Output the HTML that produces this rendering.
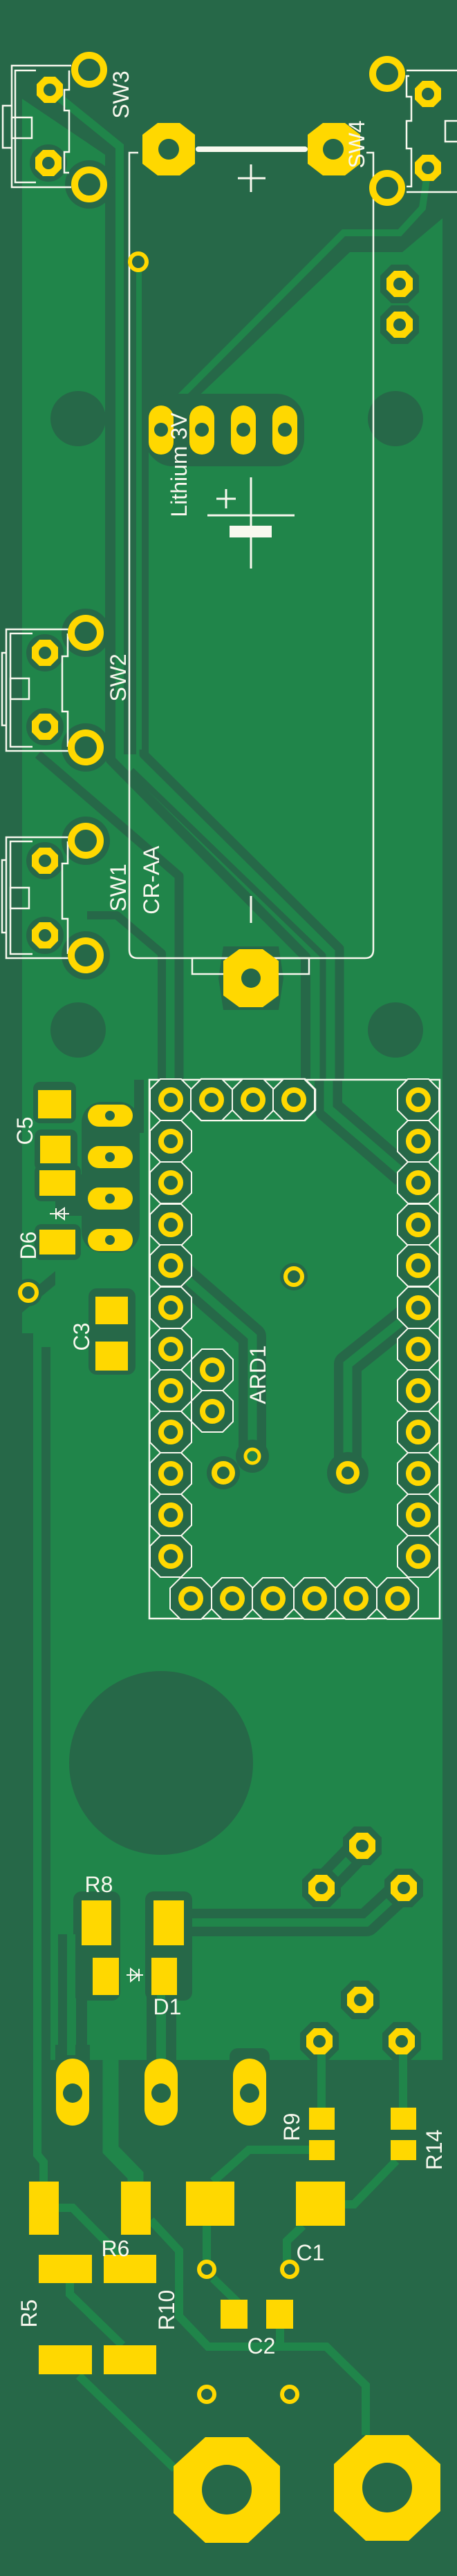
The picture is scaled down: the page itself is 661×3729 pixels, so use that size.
<!DOCTYPE html>
<html><head><meta charset="utf-8"><style>
html,body{margin:0;padding:0;background:#266848;}
svg{display:block;}
text{font-family:"Liberation Sans",sans-serif;fill:#F8F8EE;}
</style></head><body>
<svg width="661" height="3729" viewBox="0 0 661 3729" xmlns="http://www.w3.org/2000/svg">
<defs>
<g id="ring"><circle r="21" fill="#266848" stroke="#FFD800" stroke-width="10"/></g>
<g id="oct"><polygon points="-19,-8 -8,-19 8,-19 19,-8 19,8 8,19 -8,19 -19,8" fill="#FFD800"/><circle r="9" fill="#266848"/></g>
<g id="octc"><polygon points="-28,-12 -12,-28 12,-28 28,-12 28,12 12,28 -12,28 -28,12" fill="#266848"/></g>
<g id="ao"><polygon points="-30,-15 -15,-30 15,-30 30,-15 30,15 15,30 -15,30 -30,15" fill="#266848" stroke="#F8F8EE" stroke-width="2"/><circle r="14" fill="#266848" stroke="#FFD800" stroke-width="8"/></g>
<g id="via"><circle r="12" fill="#266848" stroke="#FFD800" stroke-width="6"/></g>
</defs>
<rect width="661" height="3729" fill="#266848"/>
<!-- copper pour -->
<polygon points="32,143 152,224 152,250 32,250" fill="#20854A"/>
<rect x="32" y="250" width="608" height="2732" fill="#20854A"/>
<!-- dark top-center region -->
<polygon points="152,224 640,224 640,316 582,365 506,365 295,566 215,640 215,1092 152,1092" fill="#266848"/>
<rect x="152" y="200" width="488" height="30" fill="#266848"/>
<!-- lit traces in dark region -->
<polyline points="72,130 173,212 173,1100" fill="none" stroke="#20854A" stroke-width="12"/>
<polyline points="201,379 201,1095" fill="none" stroke="#20854A" stroke-width="8"/>
<polyline points="245,590 497,337 578,337 611,301 619,245" fill="none" stroke="#20854A" stroke-width="10"/>
<!-- dark bands -->
<g fill="none" stroke="#266848" stroke-linejoin="round">
<polyline points="208,1085 208,1092 491,1373 491,1563" stroke-width="13"/>
<polyline points="190,1115 467,1383 467,1563" stroke-width="9"/>
<polyline points="160,1090 160,1100 442,1385 442,1563" stroke-width="14"/>
<polyline points="55,1092 259,1268 259,1563" stroke-width="13"/>
<polyline points="126,1325 169,1325 234,1380 234,1563" stroke-width="12"/>
<polyline points="475,1563 475,1605 585,1700" stroke-width="40"/>
<polyline points="247,1832 365,1935 365,2108" stroke-width="40"/>
<polyline points="605,1893 503,1975 503,2132" stroke-width="40"/>
<polyline points="201,1563 201,1640" stroke-width="14"/>
<polyline points="266,2783 530,2783 584,2733" stroke-width="40"/>
<polyline points="465,2733 524,2672" stroke-width="40"/>
</g>
<g fill="none" stroke="#20854A">
<polyline points="475,1563 475,1605 585,1700" stroke-width="13"/>
<polyline points="247,1832 365,1935 365,2108" stroke-width="13"/>
<polyline points="605,1893 503,1975 503,2132" stroke-width="13"/>
<polyline points="266,2783 530,2783 584,2733" stroke-width="12"/>
<polyline points="465,2733 524,2672" stroke-width="12"/>
</g>
<!-- left lower strips -->
<rect x="32" y="1930" width="16" height="1052" fill="#266848"/>
<polygon points="32,1880 80,1840 80,1860 32,1900" fill="#266848"/>
<rect x="60" y="1950" width="13" height="1032" fill="#266848"/>
<rect x="84" y="2800" width="13" height="182" fill="#266848"/>
<rect x="110" y="2800" width="16" height="182" fill="#266848"/>
<rect x="212" y="2888" width="14" height="94" fill="#266848"/>
<rect x="240" y="2888" width="15" height="94" fill="#266848"/>
<!-- right edge -->
<rect x="640" y="0" width="21" height="3729" fill="#266848"/>
<!-- mount holes -->
<ellipse cx="113" cy="606" rx="40" ry="40" fill="#266848"/>
<ellipse cx="572" cy="606" rx="40" ry="40" fill="#266848"/>
<ellipse cx="113" cy="1491" rx="40" ry="40" fill="#266848"/>
<ellipse cx="572" cy="1491" rx="40" ry="40" fill="#266848"/>
<circle cx="233" cy="2552" r="133" fill="#266848"/>
<!-- clearance around pads -->
<g fill="#266848">
<circle cx="129" cy="267" r="35"/><circle cx="124" cy="916" r="35"/><circle cx="124" cy="1082" r="35"/><circle cx="124" cy="1217" r="35"/><circle cx="124" cy="1383" r="35"/>
<circle cx="65" cy="945" r="27"/><circle cx="65" cy="1052" r="27"/><circle cx="65" cy="1246" r="27"/><circle cx="65" cy="1354" r="27"/><circle cx="70" cy="236" r="27"/>
<use href="#octc" x="578" y="411"/><use href="#octc" x="578" y="470"/>
<rect x="210" y="570" width="230" height="105" rx="40"/>
<polygon points="323,1370 403,1370 410,1416 403,1462 323,1462 316,1416"/>
<rect x="48" y="1566" width="62" height="60" rx="10"/>
<rect x="50" y="1635" width="62" height="60" rx="10"/>
<rect x="50" y="1686" width="67" height="53" rx="10"/>
<rect x="50" y="1772" width="67" height="52" rx="10"/>
<rect x="118" y="1595" width="84" height="218" rx="30"/>
<rect x="128" y="1865" width="68" height="125" rx="12"/>
<rect x="80" y="1700" width="40" height="60"/>
<circle cx="41" cy="1871" r="20"/>
<circle cx="425" cy="1848" r="20"/><circle cx="365" cy="2108" r="24"/><circle cx="323" cy="2132" r="24"/><circle cx="503" cy="2132" r="30"/>
<rect x="106" y="2738" width="68" height="158" rx="12"/>
<rect x="210" y="2738" width="68" height="158" rx="12"/>
<use href="#octc" x="524" y="2672"/><use href="#octc" x="465" y="2733"/><use href="#octc" x="584" y="2733"/>
<use href="#octc" x="521" y="2895"/><use href="#octc" x="462" y="2955"/><use href="#octc" x="581" y="2955"/>
<rect x="80" y="2960" width="50" height="30"/><rect x="332" y="2965" width="58" height="30" rx="12"/>
</g>
<!-- lower lit traces -->
<g fill="none" stroke="#20854A" stroke-width="12">
<polyline points="54,2982 54,3119 63,3130 63,3158"/>
<polyline points="160,2900 160,3112 196,3149 196,3158" stroke-width="23"/>
<polyline points="103,2800 103,2975"/>
<polyline points="233,2880 233,2982"/>
<polyline points="218,3214 259,3258 259,3353 301,3397 472,3397 529,3453 529,3525"/>
<polyline points="85,3196 105,3196 175,3267"/>
<polyline points="101,3305 101,3321 177,3395"/>
<polyline points="114,3439 253,3574"/>
<polyline points="299,3222 299,3285"/>
<polyline points="308,3298 346,3335"/>
<polyline points="308,3158 360,3112 447,3112"/>
<polyline points="499,3191 512,3191 573,3128"/>
<polyline points="438,3222 415,3244 415,3285"/>
<polyline points="405,3371 405,3397"/>
<polyline points="465,2955 465,3051"/>
<polyline points="583,2955 583,3051"/>
</g>
<!-- SILKSCREEN -->
<g fill="none" stroke="#F8F8EE" stroke-width="2.5">
<!-- SW3 -->
<polyline points="103,95 17,95 17,271 103,271"/>
<polyline points="52,102 22,102 22,264 52,264"/>
<polyline points="17,153 4,153 4,214 17,214"/>
<rect x="17" y="170" width="29" height="30"/>
<polyline points="100,102 100,130 93,130 93,160 100,160 100,220 93,220 93,250 100,250"/>
<!-- SW4 -->
<polyline points="588,102 661,102"/><polyline points="588,278 661,278"/>
<polyline points="592,110 588,110 588,140 595,140 595,175 588,175 588,215 595,215 595,270 588,270"/>
<rect x="644" y="175" width="20" height="30"/>
<!-- SW2 -->
<polyline points="101,911 9,911 9,1087 101,1087"/>
<polyline points="47,917 15,917 15,1081 47,1081"/>
<polyline points="9,945 3,945 3,1050 9,1050"/>
<rect x="15" y="982" width="27" height="30"/>
<polyline points="98,917 98,950 90,950 90,1030 98,1030 98,1081"/>
<!-- SW1 -->
<polyline points="101,1212 9,1212 9,1387 101,1387"/>
<polyline points="47,1218 15,1218 15,1381 47,1381"/>
<polyline points="9,1245 3,1245 3,1350 9,1350"/>
<rect x="15" y="1285" width="27" height="30"/>
<polyline points="98,1218 98,1250 90,1250 90,1330 98,1330 98,1381"/>
<!-- battery outline -->
<path d="M200,221 L187,221 L187,1375 Q187,1387 199,1387 L335,1387 M392,1387 L528,1387 Q540,1387 540,1375 L540,221 L530,221"/>
<polyline points="335,1387 278,1387 278,1410 333,1410"/>
<polyline points="392,1387 447,1387 447,1410 395,1410"/>
<!-- ARD outline -->
<rect x="216" y="1563" width="420" height="780"/>
<polyline points="276,1592 291,1562 441,1562 456,1577 456,1607 441,1622 291,1622 276,1607"/>
</g>
<!-- battery line -->
<line x1="287" y1="216" x2="441" y2="216" stroke="#F8F8EE" stroke-width="8" stroke-linecap="round"/>
<g stroke="#F8F8EE" stroke-width="3" fill="none">
<line x1="344" y1="258" x2="384" y2="258"/><line x1="363" y1="238" x2="363" y2="278"/>
<line x1="363" y1="691" x2="363" y2="823"/>
<line x1="300" y1="746" x2="426" y2="746"/>
<line x1="313" y1="722" x2="341" y2="722"/><line x1="327" y1="708" x2="327" y2="736"/>
<line x1="363" y1="1297" x2="363" y2="1336"/>
</g>
<rect x="332" y="761" width="61" height="17" fill="#F8F8EE"/>
<!-- PADS -->
<use href="#ring" x="129" y="101"/><use href="#ring" x="129" y="267"/>
<use href="#ring" x="560" y="107"/><use href="#ring" x="560" y="272"/>
<use href="#ring" x="124" y="916"/><use href="#ring" x="124" y="1082"/>
<use href="#ring" x="124" y="1217"/><use href="#ring" x="124" y="1383"/>
<use href="#oct" x="72" y="130"/><use href="#oct" x="70" y="236"/>
<use href="#oct" x="619" y="136"/><use href="#oct" x="619" y="243"/>
<use href="#oct" x="65" y="945"/><use href="#oct" x="65" y="1052"/>
<use href="#oct" x="65" y="1246"/><use href="#oct" x="65" y="1354"/>
<use href="#oct" x="578" y="411"/><use href="#oct" x="578" y="470"/>
<use href="#oct" x="524" y="2672"/><use href="#oct" x="465" y="2733"/><use href="#oct" x="584" y="2733"/>
<use href="#oct" x="521" y="2895"/><use href="#oct" x="462" y="2955"/><use href="#oct" x="581" y="2955"/>
<!-- battery big pads -->
<polygon points="206,195 228,178 260,178 282,195 282,237 260,254 228,254 206,237" fill="#FFD800"/>
<circle cx="244" cy="216" r="15" fill="#266848"/>
<polygon points="445,195 467,178 499,178 521,195 521,237 499,254 467,254 445,237" fill="#FFD800"/>
<circle cx="482" cy="216" r="15" fill="#266848"/>
<polygon points="323,1391 346,1374 380,1374 403,1391 403,1441 380,1458 346,1458 323,1441" fill="#FFD800"/>
<circle cx="363" cy="1416" r="14" fill="#266848"/>
<!-- lithium pads -->
<g fill="#FFD800"><rect x="215" y="587" width="36" height="71" rx="18"/><rect x="274" y="587" width="36" height="71" rx="18"/><rect x="334" y="587" width="36" height="71" rx="18"/><rect x="394" y="587" width="36" height="71" rx="18"/></g>
<g fill="#266848"><circle cx="233" cy="622" r="10"/><circle cx="292" cy="622" r="10"/><circle cx="352" cy="622" r="10"/><circle cx="412" cy="622" r="10"/></g>
<use href="#via" x="200" y="379"/>
<!-- C5 D6 ovals -->
<g fill="#FFD800">
<rect x="55" y="1578" width="48" height="41"/><rect x="58" y="1644" width="44" height="40"/>
<rect x="57" y="1694" width="52" height="37"/><rect x="57" y="1780" width="52" height="36"/>
<rect x="127" y="1599" width="65" height="32" rx="16"/><rect x="127" y="1659" width="65" height="32" rx="16"/>
<rect x="127" y="1719" width="65" height="32" rx="16"/><rect x="127" y="1779" width="65" height="32" rx="16"/>
<rect x="138" y="1877" width="47" height="40"/><rect x="138" y="1942" width="47" height="42"/>
</g>
<g fill="#266848"><circle cx="159" cy="1615" r="7"/><circle cx="159" cy="1675" r="7"/><circle cx="159" cy="1735" r="7"/><circle cx="159" cy="1795" r="7"/></g>
<use href="#via" x="41" y="1871"/>
<!-- ARD pads -->
<g>
<use href="#ao" x="247" y="1592"/><use href="#ao" x="247" y="1652"/><use href="#ao" x="247" y="1712"/><use href="#ao" x="247" y="1773"/><use href="#ao" x="247" y="1832"/><use href="#ao" x="247" y="1893"/><use href="#ao" x="247" y="1953"/><use href="#ao" x="247" y="2013"/><use href="#ao" x="247" y="2073"/><use href="#ao" x="247" y="2133"/><use href="#ao" x="247" y="2193"/><use href="#ao" x="247" y="2253"/>
<use href="#ao" x="605" y="1592"/><use href="#ao" x="605" y="1652"/><use href="#ao" x="605" y="1712"/><use href="#ao" x="605" y="1773"/><use href="#ao" x="605" y="1832"/><use href="#ao" x="605" y="1893"/><use href="#ao" x="605" y="1953"/><use href="#ao" x="605" y="2013"/><use href="#ao" x="605" y="2073"/><use href="#ao" x="605" y="2133"/><use href="#ao" x="605" y="2193"/><use href="#ao" x="605" y="2253"/>
<use href="#ao" x="306" y="1592"/><use href="#ao" x="366" y="1592"/><use href="#ao" x="425" y="1592"/>
<use href="#ao" x="276" y="2314"/><use href="#ao" x="336" y="2314"/><use href="#ao" x="395" y="2314"/><use href="#ao" x="455" y="2314"/><use href="#ao" x="515" y="2314"/><use href="#ao" x="575" y="2314"/>
<use href="#ao" x="307" y="1983"/><use href="#ao" x="307" y="2043"/>
</g>
<use href="#via" x="425" y="1848"/>
<circle cx="365" cy="2108" r="10" fill="#20854A" stroke="#FFD800" stroke-width="5"/>
<circle cx="323" cy="2132" r="13" fill="#266848" stroke="#FFD800" stroke-width="8"/>
<circle cx="503" cy="2132" r="13" fill="#266848" stroke="#FFD800" stroke-width="8"/>
<!-- R8 D1 -->
<g fill="#FFD800">
<rect x="118" y="2751" width="43" height="65"/><rect x="222" y="2751" width="44" height="65"/>
<rect x="134" y="2834" width="38" height="54"/><rect x="219" y="2834" width="37" height="54"/>
</g>
<g stroke="#F8F8EE" stroke-width="2" fill="none"><polyline points="183,2859 207,2859"/><polygon points="189,2850 189,2868 200,2859"/><line x1="201" y1="2850" x2="201" y2="2868"/>
<polyline points="72,1757 100,1757"/><polygon points="93,1749 93,1765 82,1757"/><line x1="81" y1="1749" x2="81" y2="1765"/></g>
<!-- bottom ovals -->
<g fill="#FFD800"><rect x="81" y="2980" width="48" height="97" rx="24"/><rect x="209" y="2980" width="48" height="97" rx="24"/><rect x="337" y="2980" width="48" height="97" rx="24"/></g>
<g fill="#266848"><circle cx="105" cy="3030" r="14"/><circle cx="233" cy="3030" r="14"/><circle cx="361" cy="3030" r="14"/></g>
<!-- bottom SMD -->
<g fill="#FFD800">
<rect x="447" y="3051" width="37" height="32"/><rect x="447" y="3098" width="37" height="29"/>
<rect x="565" y="3051" width="37" height="32"/><rect x="565" y="3098" width="37" height="29"/>
<rect x="269" y="3158" width="70" height="64"/><rect x="428" y="3158" width="71" height="64"/>
<rect x="42" y="3158" width="43" height="77"/><rect x="175" y="3158" width="43" height="77"/>
<rect x="56" y="3264" width="77" height="41"/><rect x="150" y="3264" width="76" height="41"/>
<rect x="56" y="3395" width="77" height="42"/><rect x="150" y="3395" width="76" height="42"/>
<rect x="319" y="3329" width="39" height="42"/><rect x="385" y="3329" width="39" height="42"/>
<polygon points="251,3570 297,3528 359,3528 405,3570 405,3638 359,3681 297,3681 251,3638"/>
<polygon points="483,3567 529,3525 591,3525 637,3567 637,3635 591,3678 529,3678 483,3635"/>
</g>
<circle cx="328" cy="3604" r="36" fill="#266848"/><circle cx="560" cy="3601" r="36" fill="#266848"/>
<g fill="#266848" stroke="#FFD800" stroke-width="6"><circle cx="299" cy="3285" r="11"/><circle cx="419" cy="3285" r="11"/><circle cx="299" cy="3466" r="11"/><circle cx="419" cy="3466" r="11"/></g>
<!-- LABELS -->
<g font-size="32">
<text transform="translate(175,137) rotate(-90)" text-anchor="middle" dominant-baseline="central">SW3</text>
<text transform="translate(516,209) rotate(-90)" text-anchor="middle" dominant-baseline="central">SW4</text>
<text transform="translate(171,981) rotate(-90)" text-anchor="middle" dominant-baseline="central">SW2</text>
<text transform="translate(171,1285) rotate(-90)" text-anchor="middle" dominant-baseline="central">SW1</text>
<text transform="translate(219,1274) rotate(-90)" text-anchor="middle" dominant-baseline="central">CR-AA</text>
<text transform="translate(259,673) rotate(-90)" text-anchor="middle" dominant-baseline="central">Lithium 3V</text>
<text transform="translate(36,1637) rotate(-90)" text-anchor="middle" dominant-baseline="central">C5</text>
<text transform="translate(41,1803) rotate(-90)" text-anchor="middle" dominant-baseline="central">D6</text>
<text transform="translate(118,1935) rotate(-90)" text-anchor="middle" dominant-baseline="central">C3</text>
<text transform="translate(373,1990) rotate(-90)" text-anchor="middle" dominant-baseline="central">ARD1</text>
<text x="143" y="2739" text-anchor="middle">R8</text>
<text x="242" y="2916" text-anchor="middle">D1</text>
<text transform="translate(422,3079) rotate(-90)" text-anchor="middle" dominant-baseline="central">R9</text>
<text transform="translate(628,3112) rotate(-90)" text-anchor="middle" dominant-baseline="central">R14</text>
<text x="449" y="3272" text-anchor="middle">C1</text>
<text x="167" y="3266" text-anchor="middle">R6</text>
<text transform="translate(42,3349) rotate(-90)" text-anchor="middle" dominant-baseline="central">R5</text>
<text transform="translate(241,3344) rotate(-90)" text-anchor="middle" dominant-baseline="central">R10</text>
<text x="378" y="3407" text-anchor="middle">C2</text>
</g>
</svg>
</body></html>
